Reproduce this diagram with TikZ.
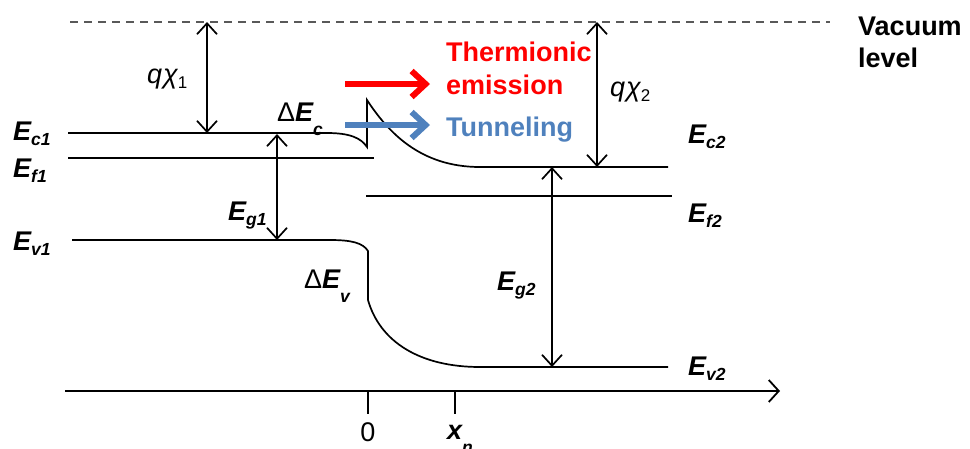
\documentclass[tikz,border=0pt]{standalone}
\usepackage{fontspec}
\setmainfont{Liberation Sans}
\usetikzlibrary{arrows.meta}
\newcommand\lf{\fontsize{27}{30}\selectfont}
\newcommand\sbf[1]{\raisebox{-0.22em}{\fontsize{17.5}{17.5}\selectfont\bfseries\itshape #1}}
\newcommand\sbl[1]{\raisebox{-0.55em}{\fontsize{17.5}{17.5}\selectfont\bfseries\itshape #1}}
\newcommand\Elab[1]{{\lf\bfseries\itshape E}\sbf{#1}}
\definecolor{tunblue}{RGB}{79,129,189}
\begin{document}
\begin{tikzpicture}[x=1pt,y=-1pt,
  lab/.style={inner sep=0pt, anchor=base west, font=\lf},
  band/.style={line width=1.7pt, black},
  thickband/.style={line width=2.8pt, black},
  vac/.style={line width=1.4pt, black!65, dash pattern=on 8pt off 6pt},
  dimarr/.style={line width=1.7pt, {Straight Barb[length=11pt,width=20pt]}-{Straight Barb[length=11pt,width=20pt]}},
  fatarr/.style={line width=6pt, -{Straight Barb[length=14pt,width=26pt]}},
  axis/.style={line width=1.8pt, -{Straight Barb[length=10pt,width=22pt]}},
  tick/.style={line width=1.8pt}]
\useasboundingbox (0,0) rectangle (970,448);

% vacuum level
\coordinate (vacL) at (70,22);
\coordinate (vacR) at (830,22);
\draw[vac] (vacL) -- (vacR);
\node[lab, font=\lf\bfseries] (vac1) at (858,35) {Vacuum};
\node[lab, font=\lf\bfseries] (vac2) at (858,67) {level};

% conduction band
\coordinate (ec1L) at (68,133);
\coordinate (ec1R) at (327,133);
\coordinate (ecJ1) at (367,147);
\coordinate (ecJ2) at (367,100);
\coordinate (ec2L) at (480,167);
\coordinate (ec2R) at (668,167);
\draw[thickband] (ec1L) -- (ec1R);
\draw[band] (ec1R) .. controls (350,133) and (361,138) .. (ecJ1) -- (ecJ2)
  .. controls (388,132) and (420,167) .. (ec2L) -- (ec2R);

% Fermi levels
\coordinate (ef1L) at (68,158);
\coordinate (ef1R) at (374,158);
\draw[thickband] (ef1L) -- (ef1R);
\coordinate (ef2L) at (366,196);
\coordinate (ef2R) at (672,196);
\draw[band] (ef2L) -- (ef2R);

% valence band
\coordinate (ev1L) at (72,240);
\coordinate (ev1R) at (330,240);
\coordinate (evJ1) at (368,251);
\coordinate (evJ2) at (368,300);
\coordinate (ev2L) at (480,367);
\coordinate (ev2R) at (668,367);
\draw[band] (ev1L) -- (ev1R) .. controls (352,240) and (363,243) .. (evJ1) -- (evJ2)
  .. controls (380,342) and (420,367) .. (ev2L) -- (ev2R);

% dimension arrows
\coordinate (chi1t) at (207,22);
\coordinate (chi1b) at (207,133);
\draw[dimarr] (chi1t) -- (chi1b);
\coordinate (chi2t) at (597,22);
\coordinate (chi2b) at (597,167);
\draw[dimarr] (chi2t) -- (chi2b);
\coordinate (eg1t) at (277,134);
\coordinate (eg1b) at (277,240);
\draw[dimarr] (eg1t) -- (eg1b);
\coordinate (eg2t) at (552,167);
\coordinate (eg2b) at (552,367);
\draw[dimarr] (eg2t) -- (eg2b);

% process arrows
\coordinate (th1) at (345,84);
\coordinate (th2) at (430,84);
\draw[fatarr, red] (th1) -- (th2);
\coordinate (tu1) at (345,125);
\coordinate (tu2) at (430,125);
\draw[fatarr, tunblue] (tu1) -- (tu2);
\node[lab, font=\lf\bfseries, text=red] (therm1) at (446,61) {Thermionic};
\node[lab, font=\lf\bfseries, text=red] (therm2) at (446,94) {emission};
\node[lab, font=\lf\bfseries, text=tunblue] (tunn) at (446,136) {Tunneling};

% labels
\node[lab] (lEc1) at (13,140) {\Elab{c1}};
\node[lab] (lEf1) at (13,177) {\Elab{f1}};
\node[lab] (lEv1) at (13,250) {\Elab{v1}};
\node[lab] (lEc2) at (688,143) {\Elab{c2}};
\node[lab] (lEf2) at (688,222) {\Elab{f2}};
\node[lab] (lEv2) at (688,375) {\Elab{v2}};
\node[lab] (lEg1) at (228,220) {\Elab{g1}};
\node[lab] (lEg2) at (497,290) {\Elab{g2}};
\node[lab] (lchi1) at (147,83) {{\itshape q\kern1pt χ}\raisebox{-0.2em}{\fontsize{17}{17}\selectfont 1}};
\node[lab] (lchi2) at (610,96) {{\itshape q\kern1pt χ}\raisebox{-0.2em}{\fontsize{17}{17}\selectfont 2}};
\node[lab] (ldEc) at (277,121) {Δ{\bfseries\itshape E}\sbl{c}};
\node[lab] (ldEv) at (304,288) {Δ{\bfseries\itshape E}\sbl{v}};

% axis
\coordinate (axL) at (65,391);
\coordinate (axR) at (780,391);
\draw[axis] (axL) -- (axR);
\coordinate (t0a) at (368,391);
\coordinate (t0b) at (368,414);
\draw[tick] (t0a) -- (t0b);
\coordinate (tna) at (455,391);
\coordinate (tnb) at (455,414);
\draw[tick] (tna) -- (tnb);
\node[lab, anchor=base] (l0) at (368,441) {0};
\node[lab, anchor=base] (lxn) at (460,439) {{\bfseries\itshape x}\sbl{n}};
\end{tikzpicture}
\end{document}
